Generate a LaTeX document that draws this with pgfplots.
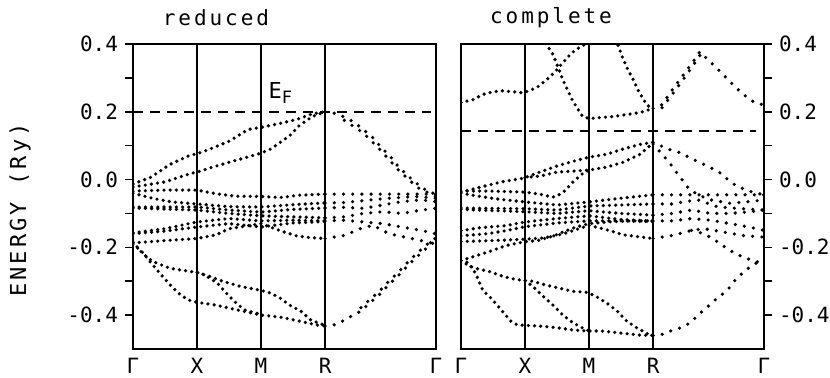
\documentclass[border=0pt]{standalone}
\usepackage{pgfplots}
\pgfplotsset{compat=1.18}
\usepackage{fontspec}
\setmainfont{DejaVu Sans Mono}
\newfontfamily\spaced[LetterSpace=14]{DejaVu Sans Mono}
\pgfplotsset{
  band/.style={black, line width=1.8pt, line cap=round, dash pattern=on 0pt off 3.1pt},
  bandr/.style={black, line width=1.8pt, line cap=round, dash pattern=on 0pt off 4.6pt},
  fermi/.style={black, line width=1pt, dash pattern=on 5pt off 3.5pt},
  panel/.style={
    scale only axis, width=151.5pt, height=152.5pt, anchor=south west,
    xmin=0, xmax=4.732, ymin=-0.5, ymax=0.4,
    xtick={0,1,2,3,4.732}, xticklabels={Γ,X,M,R,Γ},
    xmajorgrids, major x grid style={black, line width=0.8pt},
    xtick style={draw=none},
    ytick={-0.4,-0.2,0,0.2,0.4}, yticklabels={-0.4,-0.2,0.0,0.2,0.4},
    minor ytick={-0.3,-0.1,0.1,0.3},
    tick align=outside, major tick length=4pt, minor tick length=4pt,
    ytick style={black, line width=0.8pt},
    axis line style={line width=0.8pt},
    tick label style={font=\fontsize{10.5}{12}\selectfont},
    xticklabel style={yshift=3pt},
  },
}
\begin{document}
\begin{tikzpicture}
\path[use as bounding box] (0,0) rectangle (415pt,188.5pt);
% ---------------- reduced ----------------
\begin{axis}[panel, at={(66.5pt,14pt)}, ytick pos=left]
\addplot[fermi] coordinates {(0,0.2) (4.65,0.2)};
% Gamma - X - M - R
\addplot[band] coordinates {(0,-0.013)(0.27,0.006)(0.58,0.045)(0.89,0.072)(1,0.076)(1.2,0.09)(1.5,0.113)(1.8,0.148)(2,0.154)(2.3,0.166)(2.55,0.177)(2.8,0.194)(3,0.2)};
\addplot[band] coordinates {(0,-0.022)(0.5,-0.007)(0.9,0.018)(1,0.022)(1.25,0.037)(1.5,0.051)(1.78,0.066)(2,0.078)(2.15,0.09)(2.3,0.11)(2.45,0.13)(2.6,0.16)(2.8,0.186)(3,0.2)};
\addplot[band] coordinates {(0,-0.034)(0.5,-0.031)(1,-0.031)(1.3,-0.042)(1.6,-0.049)(2,-0.05)(2.3,-0.053)(2.6,-0.046)(3,-0.043)};
\addplot[band] coordinates {(0,-0.04)(0.3,-0.055)(0.6,-0.066)(1,-0.072)(1.5,-0.08)(2,-0.081)(2.5,-0.074)(3,-0.069)};
\addplot[band] coordinates {(0,-0.081)(1,-0.081)(1.5,-0.09)(2,-0.096)(2.5,-0.088)(3,-0.084)};
\addplot[band] coordinates {(0,-0.084)(1,-0.09)(1.5,-0.1)(2,-0.107)(2.5,-0.11)(3,-0.113)};
\addplot[band] coordinates {(0,-0.157)(0.5,-0.145)(1,-0.125)(1.5,-0.115)(2,-0.122)(2.5,-0.12)(3,-0.122)};
\addplot[band] coordinates {(0,-0.16)(0.5,-0.152)(1,-0.14)(1.5,-0.13)(2,-0.14)(2.5,-0.128)(3,-0.124)};
\addplot[band] coordinates {(0,-0.187)(0.5,-0.18)(1,-0.174)(1.3,-0.163)(1.5,-0.145)(2,-0.13)(2.3,-0.151)(2.55,-0.166)(2.75,-0.171)(3,-0.174)};
\addplot[band] coordinates {(0,-0.185)(0.15,-0.218)(0.31,-0.242)(0.58,-0.262)(0.89,-0.271)(1,-0.274)(1.2,-0.286)(1.4,-0.3)(1.67,-0.315)(2,-0.327)(2.15,-0.335)(2.3,-0.35)(2.45,-0.371)(2.62,-0.388)(2.78,-0.415)(3,-0.43)};
\addplot[band] coordinates {(0,-0.19)(0.15,-0.215)(0.3,-0.25)(0.45,-0.283)(0.6,-0.315)(0.75,-0.342)(0.9,-0.358)(1,-0.362)(1.31,-0.371)(1.63,-0.385)(2,-0.4)(2.3,-0.406)(2.61,-0.418)(2.87,-0.429)(3,-0.432)};
\addplot[band] coordinates {(1,-0.274)(1.1,-0.28)(1.31,-0.304)(1.47,-0.338)(1.63,-0.368)(1.75,-0.385)(2,-0.398)};
% R - Gamma
\addplot[bandr] coordinates {(3,0.2)(3.14,0.196)(3.28,0.186)(3.44,0.171)(3.6,0.147)(3.73,0.127)(3.86,0.098)(4.02,0.068)(4.14,0.039)(4.3,0.01)(4.44,-0.013)(4.6,-0.035)(4.732,-0.043)};
\addplot[bandr] coordinates {(3.3,0.175)(3.6,0.137)(3.86,0.088)(4.14,0.029)(4.44,-0.023)(4.732,-0.05)};
\addplot[bandr] coordinates {(3,-0.043)(4.732,-0.043)};
\addplot[bandr] coordinates {(3,-0.069)(3.3,-0.068)(3.6,-0.062)(4,-0.055)(4.4,-0.05)(4.732,-0.055)};
\addplot[bandr] coordinates {(3,-0.084)(3.3,-0.082)(3.6,-0.085)(3.9,-0.075)(4.2,-0.065)(4.5,-0.06)(4.732,-0.065)};
\addplot[bandr] coordinates {(3,-0.113)(3.3,-0.11)(3.6,-0.1)(3.9,-0.095)(4.2,-0.1)(4.5,-0.09)(4.732,-0.085)};
\addplot[bandr] coordinates {(3,-0.122)(3.3,-0.12)(3.6,-0.125)(3.9,-0.13)(4.2,-0.14)(4.5,-0.15)(4.732,-0.16)};
\addplot[bandr] coordinates {(3,-0.174)(3.3,-0.165)(3.55,-0.145)(3.75,-0.135)(4,-0.16)(4.3,-0.172)(4.5,-0.18)(4.732,-0.19)};
\addplot[bandr] coordinates {(3,-0.432)(3.125,-0.43)(3.28,-0.417)(3.42,-0.402)(3.56,-0.388)(3.69,-0.365)(3.84,-0.341)(3.97,-0.315)(4.13,-0.286)(4.28,-0.256)(4.42,-0.23)(4.58,-0.203)(4.732,-0.18)};
\addplot[bandr] coordinates {(3.56,-0.378)(3.69,-0.355)(3.84,-0.331)(3.97,-0.305)(4.13,-0.276)(4.28,-0.246)(4.42,-0.22)(4.58,-0.193)(4.732,-0.172)};
\node at (axis cs:2.3,0.256) {\fontsize{11}{12}\selectfont E\raisebox{-0.45ex}{\fontsize{8.5}{9}\selectfont F}};
\end{axis}
% ---------------- complete ----------------
\begin{axis}[panel, at={(230.5pt,14pt)}, ytick pos=right, yticklabel pos=right]
\addplot[fermi] coordinates {(0,0.142) (4.6,0.142)};
% upper bands
\addplot[band] coordinates {(0,0.227)(0.19,0.236)(0.34,0.251)(0.5,0.259)(0.66,0.262)(0.81,0.259)(0.97,0.256)(1,0.258)(1.1,0.265)(1.2,0.274)(1.34,0.295)(1.47,0.318)(1.6,0.347)(1.73,0.374)(1.86,0.391)(1.97,0.403)(2.05,0.42)};
\addplot[band] coordinates {(1.2,0.43)(1.34,0.397)(1.44,0.368)(1.59,0.295)(1.75,0.23)(1.9,0.186)(2,0.18)(2.17,0.183)(2.38,0.186)(2.59,0.192)(2.8,0.198)(3,0.21)};
\addplot[band] coordinates {(2.38,0.43)(2.44,0.403)(2.52,0.362)(2.59,0.33)(2.69,0.295)(2.77,0.262)(2.86,0.233)(2.95,0.212)(3,0.21)};
% Gamma - X - M - R
\addplot[band] coordinates {(0,-0.037)(0.31,-0.022)(0.63,-0.007)(0.97,0.004)(1,0.006)(1.23,0.022)(1.5,0.04)(1.75,0.054)(2,0.066)(2.28,0.075)(2.53,0.09)(2.8,0.104)(3,0.11)};
\addplot[band] coordinates {(1,0.006)(1.23,0.01)(1.5,0.022)(1.75,0.025)(2,0.028)(2.28,0.037)(2.53,0.051)(2.8,0.075)(2.95,0.1)(3,0.105)};
\addplot[band] coordinates {(0,-0.034)(0.5,-0.034)(1,-0.037)(1.23,-0.043)(1.43,-0.052)(1.5,-0.048)(1.6,-0.037)(1.75,-0.007)(1.9,0.018)(2,0.028)};
\addplot[band] coordinates {(0,-0.04)(0.3,-0.05)(0.6,-0.058)(1,-0.066)(1.5,-0.075)(2,-0.066)(2.5,-0.055)(3,-0.045)};
\addplot[band] coordinates {(0,-0.084)(1,-0.086)(1.5,-0.09)(2,-0.078)(2.5,-0.075)(3,-0.072)};
\addplot[band] coordinates {(0,-0.088)(1,-0.095)(1.5,-0.1)(2,-0.092)(2.5,-0.1)(3,-0.105)};
\addplot[band] coordinates {(0,-0.151)(0.3,-0.142)(0.7,-0.136)(1,-0.125)(1.5,-0.115)(2,-0.107)(2.5,-0.118)(3,-0.122)};
\addplot[band] coordinates {(0,-0.166)(0.4,-0.16)(0.7,-0.151)(1,-0.139)(1.5,-0.128)(2,-0.122)(2.5,-0.122)(3,-0.124)};
\addplot[band] coordinates {(0,-0.183)(0.5,-0.18)(1,-0.176)(1.3,-0.172)(1.6,-0.16)(2,-0.135)(2.33,-0.151)(2.53,-0.163)(2.75,-0.168)(3,-0.174)};
\addplot[band] coordinates {(0,-0.239)(0.2,-0.227)(0.45,-0.212)(0.7,-0.195)(1,-0.183)(1.2,-0.18)(1.45,-0.166)(1.6,-0.154)(1.8,-0.14)(2,-0.13)(2.3,-0.125)(2.6,-0.122)(3,-0.122)};
\addplot[band] coordinates {(0,-0.239)(0.11,-0.245)(0.23,-0.277)(0.34,-0.327)(0.47,-0.35)(0.58,-0.374)(0.67,-0.394)(0.78,-0.418)(0.88,-0.429)(1,-0.43)(1.2,-0.432)(1.5,-0.437)(1.75,-0.444)(2,-0.447)(2.2,-0.447)(2.5,-0.453)(2.8,-0.459)(3,-0.46)};
\addplot[band] coordinates {(0,-0.239)(0.12,-0.254)(0.23,-0.262)(0.44,-0.271)(0.66,-0.286)(0.86,-0.295)(1,-0.298)(1.12,-0.3)(1.34,-0.312)(1.55,-0.321)(1.75,-0.33)(1.97,-0.333)(2.1,-0.344)(2.28,-0.365)(2.44,-0.388)(2.59,-0.418)(2.75,-0.438)(2.95,-0.459)(3,-0.46)};
\addplot[band] coordinates {(1,-0.298)(1.12,-0.315)(1.28,-0.344)(1.44,-0.371)(1.59,-0.4)(1.75,-0.423)(1.9,-0.438)(2,-0.447)};
% R - Gamma
\addplot[bandr] coordinates {(3,0.21)(3.14,0.221)(3.3,0.265)(3.45,0.303)(3.61,0.344)(3.73,0.377)(3.86,0.353)(4.02,0.324)(4.17,0.295)(4.33,0.265)(4.47,0.242)(4.59,0.227)(4.732,0.22)};
\addplot[bandr] coordinates {(3.14,0.212)(3.3,0.252)(3.45,0.29)(3.61,0.333)(3.73,0.366)};
\addplot[bandr] coordinates {(3,0.11)(3.14,0.098)(3.25,0.089)(3.41,0.08)(3.56,0.066)(3.72,0.051)(3.88,0.037)(4.03,0.022)(4.16,0.001)(4.3,-0.019)(4.42,-0.028)(4.55,-0.037)(4.732,-0.045)};
\addplot[bandr] coordinates {(3,0.105)(3.14,0.075)(3.25,0.051)(3.41,0.01)(3.55,-0.025)(3.7,-0.045)(3.9,-0.06)(4.2,-0.07)(4.5,-0.065)(4.732,-0.06)};
\addplot[bandr] coordinates {(3,-0.045)(4.732,-0.045)};
\addplot[bandr] coordinates {(3,-0.072)(3.3,-0.072)(3.5,-0.065)(3.7,-0.06)(4,-0.08)(4.3,-0.085)(4.732,-0.09)};
\addplot[bandr] coordinates {(3,-0.105)(3.3,-0.1)(3.6,-0.09)(3.9,-0.1)(4.2,-0.1)(4.5,-0.095)(4.732,-0.09)};
\addplot[bandr] coordinates {(3,-0.122)(3.3,-0.122)(3.6,-0.115)(3.9,-0.12)(4.2,-0.13)(4.5,-0.14)(4.732,-0.15)};
\addplot[bandr] coordinates {(3,-0.174)(3.3,-0.165)(3.6,-0.15)(3.8,-0.145)(4.1,-0.155)(4.4,-0.165)(4.732,-0.17)};
\addplot[bandr] coordinates {(3.6,-0.15)(3.8,-0.16)(4.0,-0.183)(4.16,-0.204)(4.31,-0.221)(4.47,-0.233)(4.59,-0.242)(4.732,-0.245)};
\addplot[bandr] coordinates {(3,-0.46)(3.11,-0.459)(3.27,-0.447)(3.42,-0.438)(3.58,-0.423)(3.7,-0.4)(3.86,-0.374)(4.0,-0.35)(4.16,-0.327)(4.28,-0.297)(4.44,-0.268)(4.59,-0.248)(4.732,-0.24)};
\end{axis}
\node[font=\spaced\fontsize{10.5}{12}\selectfont] at (108pt,179.5pt) {reduced};
\node[font=\spaced\fontsize{10.5}{12}\selectfont] at (275.5pt,179.5pt) {complete};
\node[font=\spaced\fontsize{11}{13}\selectfont, rotate=90] at (10pt,83.5pt) {ENERGY (Ry)};
\end{tikzpicture}
\end{document}
